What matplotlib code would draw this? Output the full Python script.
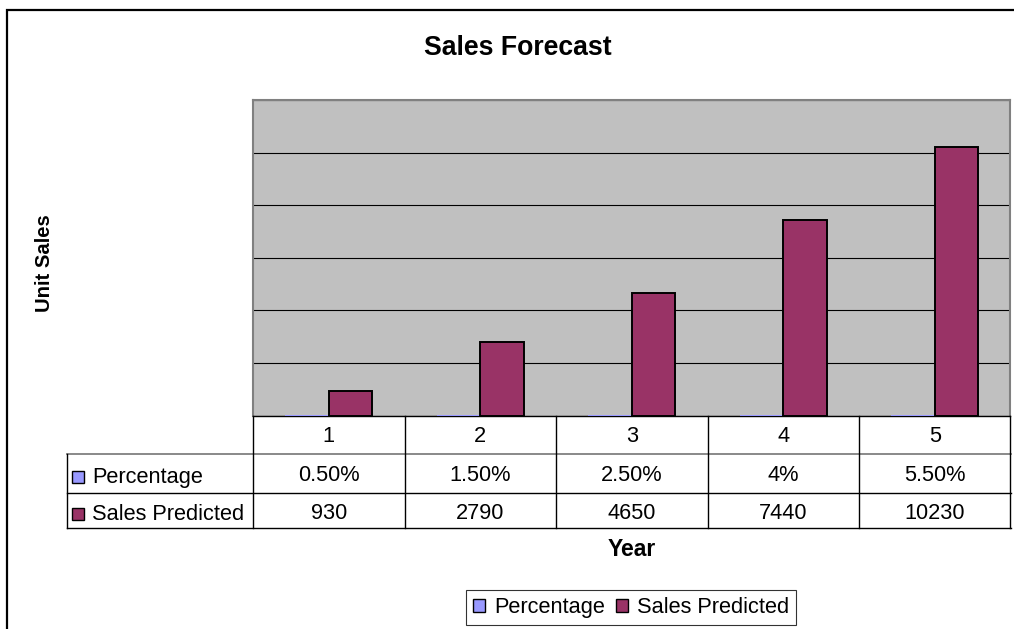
import matplotlib
matplotlib.use("Agg")
import matplotlib.pyplot as plt
from matplotlib.patches import Rectangle
from matplotlib.lines import Line2D
from matplotlib.transforms import blended_transform_factory

plt.rcParams['font.family'] = ['Liberation Sans', 'DejaVu Sans']

# Data
years = ["1", "2", "3", "4", "5"]
percentage = [0.005, 0.015, 0.025, 0.04, 0.055]
percentage_labels = ["0.50%", "1.50%", "2.50%", "4%", "5.50%"]
sales_predicted = [930, 2790, 4650, 7440, 10230]
series_names = ["Percentage", "Sales Predicted"]
series_colors = ["#9999FF", "#993366"]

W, H = 1014, 629
fig = plt.figure(figsize=(W / 100, H / 100), dpi=100)
fig.patch.set_facecolor("white")


def fx(px):
    return px / W


def fy(py):
    return 1 - py / H


# Outer chart frame (runs off the right and bottom edges)
fig.patches.append(Rectangle((fx(7), fy(H + 20)), fx(W + 20), fy(10) - fy(H + 20),
                             transform=fig.transFigure, fill=False,
                             edgecolor="black", lw=1.6, zorder=0))

# Plot area
left, right, top, bottom = 253, 1010.5, 100, 415.5
ax = fig.add_axes([fx(left), fy(bottom), fx(right - left), fy(top) - fy(bottom)])
ax.set_facecolor("#C0C0C0")

n = len(years)
x = list(range(n))
w = 1 / 3.5
ax.bar([i - w / 2 for i in x], percentage, w, color=series_colors[0],
       edgecolor="none", lw=0, zorder=3)
ax.bar([i + w / 2 for i in x], sales_predicted, w, color=series_colors[1],
       edgecolor="black", lw=1.4, zorder=3)

ax.set_xlim(-0.5, n - 0.5)
ax.set_ylim(0, 12000)
ax.set_yticks(range(0, 12001, 2000))
ax.yaxis.grid(True, color="black", lw=0.8)
ax.set_axisbelow(True)
ax.tick_params(left=False, bottom=False, labelleft=False, labelbottom=False)
for s in ("top", "left", "right"):
    ax.spines[s].set_color("#808080")
    ax.spines[s].set_linewidth(1.5)
ax.spines["bottom"].set_color("black")
ax.spines["bottom"].set_linewidth(1.0)

# Data table below the plot area
tr = blended_transform_factory(ax.transData, fig.transFigure)
row_lines = [415.5, 454, 493, 528]
fs = 15.7

# horizontal rules
for i, yy in enumerate(row_lines[1:]):
    col = "#808080" if i == 0 else "black"
    fig.lines.append(Line2D([fx(67), fx(right)], [fy(yy), fy(yy)],
                            transform=fig.transFigure, color=col,
                            lw=1.3 if i == 0 else 1.0))
# vertical rules
fig.lines.append(Line2D([fx(67), fx(67)], [fy(454), fy(528)],
                        transform=fig.transFigure, color="black", lw=1.0))
fig.lines.append(Line2D([fx(left), fx(left)], [fy(415.5), fy(528)],
                        transform=fig.transFigure, color="black", lw=1.0))
for b in [i + 0.5 for i in range(n)]:
    fig.lines.append(Line2D([b, b], [fy(415.5), fy(528)], transform=tr,
                            color="black", lw=1.0))

# cell text
for i in range(n):
    fig.text(i, fy(441.7), years[i], transform=tr, ha="center",
             va="baseline", fontsize=fs)
    fig.text(i, fy(481), percentage_labels[i], transform=tr, ha="center",
             va="baseline", fontsize=fs)
    fig.text(i, fy(519.3), str(sales_predicted[i]), transform=tr,
             ha="center", va="baseline", fontsize=fs)

# row headers with legend keys
for name, col, base in zip(series_names, series_colors, [482.7, 520]):
    fig.patches.append(Rectangle((fx(72), fy(base)), fx(12), fy(base - 12) - fy(base),
                                 transform=fig.transFigure, facecolor=col,
                                 edgecolor="black", lw=1.0))
    fig.text(fx(92), fy(base), name, ha="left", va="baseline", fontsize=fs)

# Titles
fig.text(fx(518), fy(55), "Sales Forecast", ha="center", va="baseline",
         fontsize=19.2, fontweight="bold")
fig.text(fx(44.5), fy(263.5), "Unit Sales", ha="center", va="center",
         rotation=90, fontsize=14.6, fontweight="bold")
fig.text(fx(632), fy(555.7), "Year", ha="center", va="baseline",
         fontsize=16.5, fontweight="bold")

# Legend
handles = [Rectangle((0, 0), 1, 1, facecolor=c, edgecolor="black", lw=1.0)
           for c in series_colors]
leg = fig.legend(handles, series_names, loc="center",
                 bbox_to_anchor=(fx(631), fy(607.5)), ncol=2, frameon=True,
                 fancybox=False, edgecolor="black", fontsize=fs,
                 handlelength=0.55, handleheight=0.55, handletextpad=0.42,
                 columnspacing=0.5, borderpad=0.3, borderaxespad=0)
leg.get_frame().set_linewidth(0.8)

fig.savefig("out.png", dpi=100)
